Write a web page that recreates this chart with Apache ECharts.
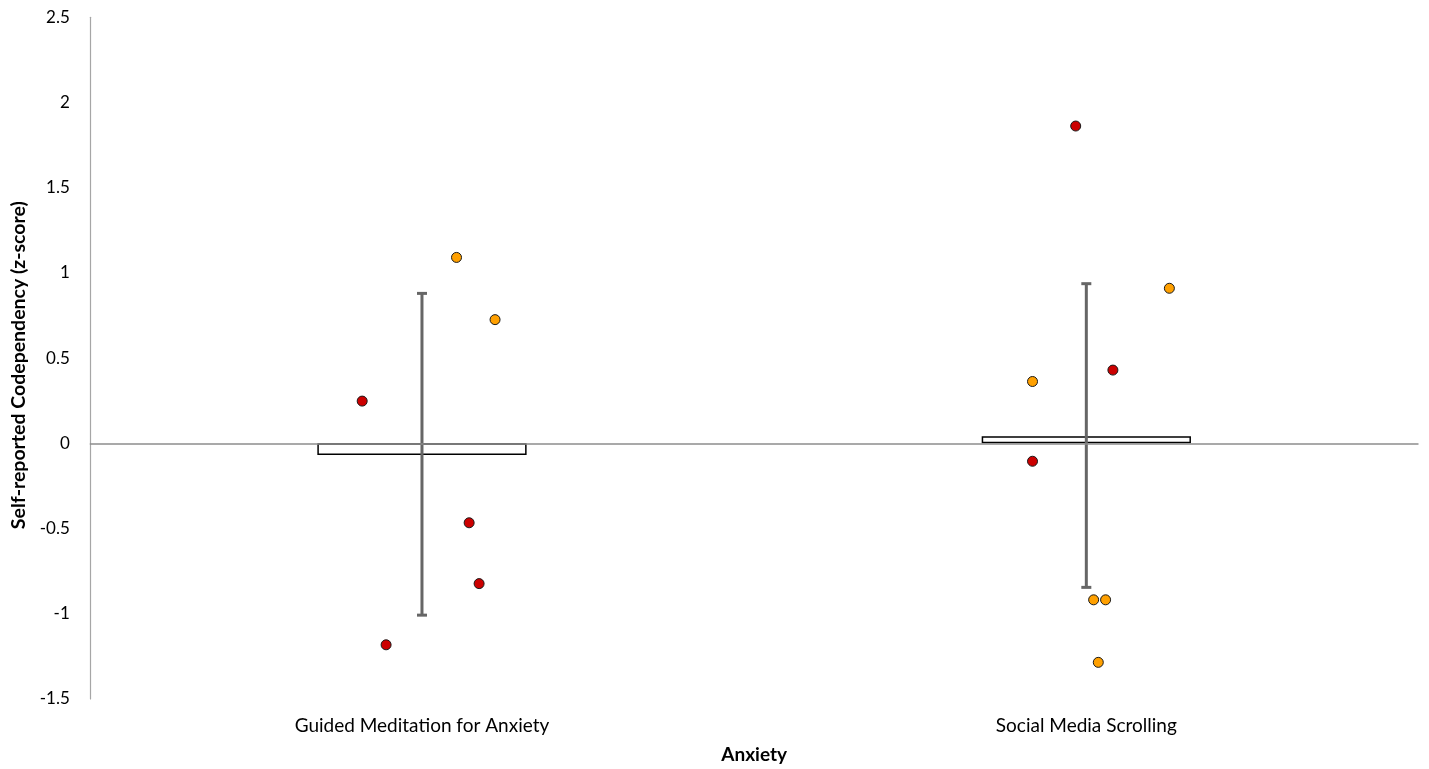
<!DOCTYPE html>
<html>
<head>
<meta charset="utf-8">
<script src="https://cdn.jsdelivr.net/npm/echarts@6/dist/echarts.min.js"></script>
<style>
  html, body { margin: 0; padding: 0; background: #fff; }
  #chart { width: 1429px; height: 769px; }
</style>
</head>
<body>
<div id="chart"></div>
<script>
// Condition groups on the x axis
const categories = ['Guided Meditation for Anxiety', 'Social Media Scrolling'];

// Group means with the low / high ends of their error bars
const means = [-0.068, 0.042];
const errLow = [-1.008, -0.845];
const errHigh = [0.880, 0.937];

// Individual participants: [jittered x position (0-2 scale), z-score]
const redPoints = [
  [0.410, 0.248], [0.571, -0.466], [0.586, -0.823], [0.446, -1.182],
  [1.484, 1.862], [1.540, 0.430], [1.419, -0.105]
];
const orangePoints = [
  [0.552, 1.091], [0.610, 0.726],
  [1.625, 0.910], [1.419, 0.363], [1.511, -0.918], [1.529, -0.918], [1.518, -1.285]
];

const yTicks = { min: -1.5, max: 2.5, step: 0.5 };

const font = 'Lato, "Open Sans", sans-serif';
const chart = echarts.init(document.getElementById('chart'));

chart.setOption({
  animation: false,
  backgroundColor: '#ffffff',
  grid: { left: 89.8, right: 10.5, top: 17.3, bottom: 65.3 },
  xAxis: [
    {
      type: 'category',
      data: categories,
      name: 'Anxiety',
      nameLocation: 'middle',
      nameGap: 46,
      nameTextStyle: { fontFamily: font, fontWeight: 'bold', fontSize: 19, color: '#000' },
      axisLine: { show: false },
      axisTick: { show: false },
      axisLabel: { fontFamily: font, fontSize: 19, color: '#000', margin: 17 },
      splitLine: { show: false }
    },
    {
      type: 'value',
      min: 0, max: 2,
      show: false
    }
  ],
  yAxis: {
    type: 'value',
    min: yTicks.min, max: yTicks.max, interval: yTicks.step,
    name: 'Self-reported Codependency (z-score)',
    nameLocation: 'middle',
    nameGap: 48,
    nameTextStyle: { fontFamily: font, fontWeight: 'bold', fontSize: 19.5, color: '#000', padding: [0, 14, 0, 0] },
    axisLine: { show: true, onZero: false, lineStyle: { color: '#a6a6a6', width: 1.2 } },
    axisTick: { show: false },
    splitLine: { show: false },
    axisLabel: { fontFamily: font, fontSize: 17, color: '#000', margin: 20 }
  },
  series: [
    {
      type: 'bar',
      data: means,
      barWidth: '31.5%',
      itemStyle: { color: '#ffffff', borderColor: '#000000', borderWidth: 1.5 },
      z: 2,
      markLine: {
        silent: true,
        symbol: ['none', 'none'],
        label: { show: false },
        lineStyle: { type: 'solid', color: '#8c8c8c', width: 1.5 },
        data: [{ yAxis: 0 }]
      }
    },
    {
      type: 'custom',
      z: 4,
      data: categories.map((c, i) => [i, errLow[i], errHigh[i]]),
      renderItem: function (params, api) {
        const lo = api.coord([api.value(0), api.value(1)]);
        const hi = api.coord([api.value(0), api.value(2)]);
        const cap = 5;
        const style = { stroke: '#666666', lineWidth: 3 };
        return {
          type: 'group',
          children: [
            { type: 'line', shape: { x1: lo[0], y1: lo[1], x2: hi[0], y2: hi[1] }, style: style },
            { type: 'line', shape: { x1: hi[0] - cap, y1: hi[1], x2: hi[0] + cap, y2: hi[1] }, style: style },
            { type: 'line', shape: { x1: lo[0] - cap, y1: lo[1], x2: lo[0] + cap, y2: lo[1] }, style: style }
          ]
        };
      }
    },
    {
      type: 'scatter',
      xAxisIndex: 1,
      data: redPoints,
      symbolSize: 10,
      z: 5,
      itemStyle: { color: '#cc0000', borderColor: '#1a1a1a', borderWidth: 1, opacity: 1 }
    },
    {
      type: 'scatter',
      xAxisIndex: 1,
      data: orangePoints,
      symbolSize: 10,
      z: 5,
      itemStyle: { color: '#ffa000', borderColor: '#1a1a1a', borderWidth: 1, opacity: 1 }
    }
  ]
});
</script>
</body>
</html>
